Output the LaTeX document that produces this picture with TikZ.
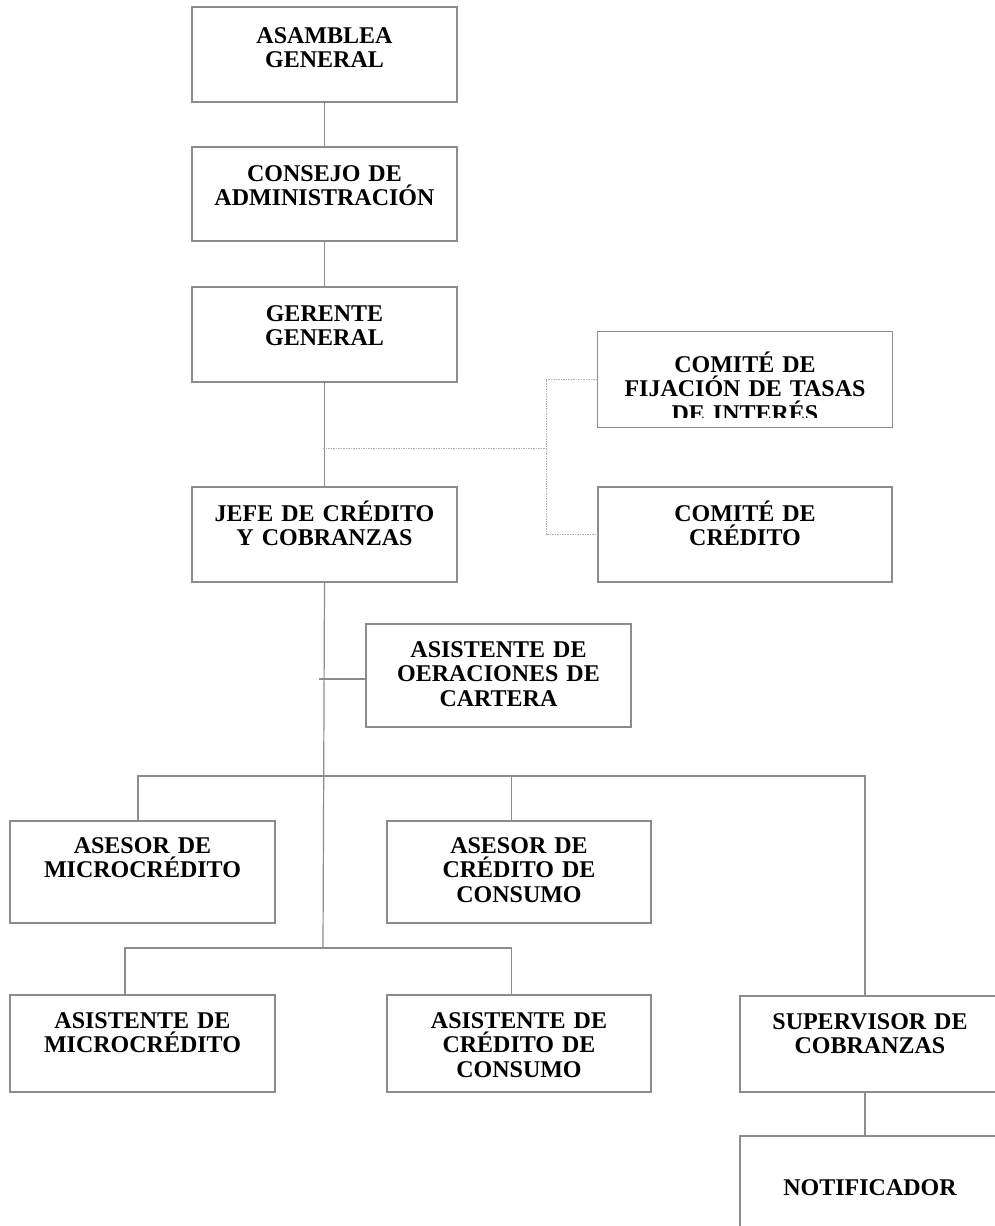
\documentclass[tikz,border=0pt]{standalone}
\usepackage{fontspec}
\setmainfont{Liberation Serif}
\definecolor{bordergray}{RGB}{140,140,140}
\definecolor{linegray}{RGB}{140,140,140}
\definecolor{dotgray}{RGB}{175,175,175}
\tikzset{
  orgbox/.style={draw=bordergray, line width=1.2pt, inner sep=0pt, align=center,
    font=\bfseries\fontsize{24}{24.5}\selectfont, anchor=base},
  conn/.style={draw=linegray, line width=1.2pt},
  dotc/.style={draw=dotgray, line width=1pt, dash pattern=on 1.5pt off 1pt},
}
\begin{document}
\begin{tikzpicture}[x=1pt,y=1pt]
\useasboundingbox (0,0) rectangle (995,-1226);
\clip (0,0) rectangle (995,-1226);
\fill[white] (0,0) rectangle (995,-1226);

\node[orgbox, text width=265pt, text height=36pt, text depth=59pt] (A) at (324.5,-43) {ASAMBLEA\\GENERAL};
\node[orgbox, text width=265pt, text height=34pt, text depth=60pt] (C) at (324.5,-181) {CONSEJO DE\\ADMINISTRACIÓN};
\node[orgbox, text width=265pt, text height=34pt, text depth=61pt] (G) at (324.5,-321) {GERENTE\\GENERAL};
\begin{scope}
  \clip (598,-332) rectangle (892,-417);
  \node[orgbox, draw=none, text width=294pt, text height=40pt, text depth=55pt] (CF) at (745,-372) {COMITÉ DE\\FIJACIÓN DE TASAS\\DE INTERÉS};
\end{scope}
\draw[draw=bordergray, line width=1.2pt] (CF.south west) rectangle (CF.north east);
\node[orgbox, text width=265pt, text height=34pt, text depth=61pt] (J) at (324.5,-521) {JEFE DE CRÉDITO\\Y COBRANZAS};
\node[orgbox, text width=294pt, text height=34pt, text depth=61pt] (CC) at (745,-521) {COMITÉ DE\\CRÉDITO};
\node[orgbox, text width=265pt, text height=33pt, text depth=70pt] (AO) at (498.5,-657) {ASISTENTE DE\\OERACIONES DE\\CARTERA};
\node[orgbox, text width=265pt, text height=32pt, text depth=70pt] (AM) at (142.5,-853) {ASESOR DE\\MICROCRÉDITO};
\node[orgbox, text width=264pt, text height=32pt, text depth=70pt] (AC) at (519,-853) {ASESOR DE\\CRÉDITO DE\\CONSUMO};
\node[orgbox, text width=265pt, text height=33pt, text depth=64pt] (SM) at (142.5,-1028) {ASISTENTE DE\\MICROCRÉDITO};
\node[orgbox, text width=264pt, text height=33pt, text depth=64pt] (SC) at (519,-1028) {ASISTENTE DE\\CRÉDITO DE\\CONSUMO};
\node[orgbox, text width=260pt, text height=33pt, text depth=63pt] (SUP) at (870,-1029) {SUPERVISOR DE\\COBRANZAS};
\node[orgbox, text width=260pt, text height=59pt, text depth=38pt] (N) at (870,-1195) {NOTIFICADOR};

% coordinates
\coordinate (d1) at (323,-448);
\coordinate (d2) at (546,-448);
\coordinate (t1) at (323,-776);
\coordinate (t2) at (323,-948);
\coordinate (ao) at (319,-679);

\draw[conn] (A.south) -- (C.north);
\draw[conn] (C.south) -- (G.north);
\draw[conn] (G.south) -- (J.north);
\draw[dotc] (d1) -- (d2);
\draw[dotc] (CF.west) -| (d2) |- (CC.west);
\draw[conn] (J.south) -- (t2);
\draw[conn] (ao) -- (ao -| AO.west);
\draw[conn] ([xshift=-4.5pt]AM.north) |- ([xshift=-5pt]SUP.north |- t1) -- ([xshift=-5pt]SUP.north);
\draw[conn] ([xshift=-7.5pt]AC.north) -- ([xshift=-7.5pt]AC.north |- t1);
\draw[conn] ([xshift=-17.5pt]SM.north) |- ([xshift=-7.5pt]SC.north |- t2) -- ([xshift=-7.5pt]SC.north);
\draw[conn] ([xshift=-5pt]SUP.south) -- ([xshift=-5pt]N.north);
\end{tikzpicture}
\end{document}
